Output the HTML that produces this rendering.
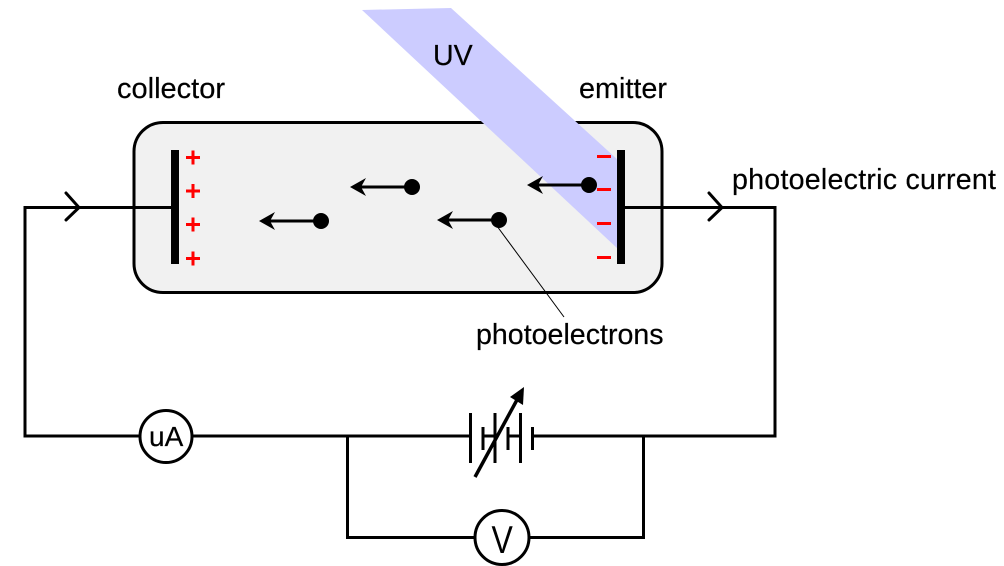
<!DOCTYPE html>
<html>
<head>
<meta charset="utf-8">
<style>
html,body{margin:0;padding:0;background:#fff;width:1004px;height:566px;overflow:hidden}
svg{display:block}
text{font-family:"Liberation Sans",Arial,sans-serif;fill:#000}
</style>
</head>
<body>
<svg width="1004" height="566" viewBox="0 0 1004 566" xmlns="http://www.w3.org/2000/svg">
<rect x="134" y="122.500" width="528" height="170" rx="29" fill="#f1f1f1" stroke="#000" stroke-width="3"/>
<polygon points="362,10 451,8 618,160 618,249" fill="#ccccff"/>
<path d="M175 207.500H25V436H140M192 436H470M532 436H775V207.500H621" fill="none" stroke="#000" stroke-width="3"/>
<path d="M66 193L79 207.500L66 220M709 193L722 207.500L709 220" fill="none" stroke="#000" stroke-width="3" stroke-linecap="round"/>
<rect x="171" y="150" width="8" height="114" fill="#000"/>
<rect x="617" y="150" width="8" height="114" fill="#000"/>
<path d="M186 157.500H200M193 150.500V164.500M186 191H200M193 184V198M186 224.500H200M193 217.500V231.500M186 258.500H200M193 251.500V265.500" stroke="#f00" stroke-width="3" fill="none"/>
<path d="M597 156.500H611M597 189.500H611M597 223.500H611M597 257.500H611" stroke="#f00" stroke-width="3" fill="none"/>
<g fill="#000">
<circle cx="589" cy="185" r="8"/><circle cx="499" cy="220" r="8"/><circle cx="412" cy="187" r="8"/><circle cx="321" cy="221" r="8"/>
<polygon points="527,185 543,176 538,185 543,194"/>
<polygon points="437,220 453,211 448,220 453,229"/>
<polygon points="350,187 366,178 361,187 366,196"/>
<polygon points="259,221 275,212 270,221 275,230"/>
</g>
<path d="M538 185H589M448 220H499M361 187H412M270 221H321" stroke="#000" stroke-width="3" fill="none"/>
<path d="M494 222L564 317" stroke="#000" stroke-width="1" fill="none"/>
<circle cx="166" cy="436.500" r="26" fill="#fff" stroke="#000" stroke-width="3"/>
<path d="M347.500 436V537.500H475M528 537.500H643.500V436" fill="none" stroke="#000" stroke-width="3"/>
<circle cx="502" cy="537.500" r="27" fill="#fff" stroke="#000" stroke-width="3"/>
<path d="M470.500 413V463M483 427V450M495 413V463M508 427V450M520.500 413V463M532.500 427V450" stroke="#000" stroke-width="3" fill="none"/>
<path d="M483 436H495M508 436H520.500" stroke="#000" stroke-width="3" fill="none"/>
<path d="M475 477L518 398" stroke="#000" stroke-width="3.500" fill="none"/>
<polygon points="524,387 523,405 510,397" fill="#000"/>
<g stroke="#000" stroke-width="0.2">
<text x="117" y="98" font-size="29">collector</text>
<text x="579" y="98" font-size="28.800">emitter</text>
<text x="433" y="65" font-size="28.600">UV</text>
<text x="732" y="189" font-size="28.600" textLength="264">photoelectric current</text>
<text x="476" y="344" font-size="28.600">photoelectrons</text>
<text x="149" y="446" font-size="28">uA</text>
<text transform="translate(491.500 553) scale(0.82 1)" font-size="39" stroke="none">V</text>
</g>
</svg>
</body>
</html>
